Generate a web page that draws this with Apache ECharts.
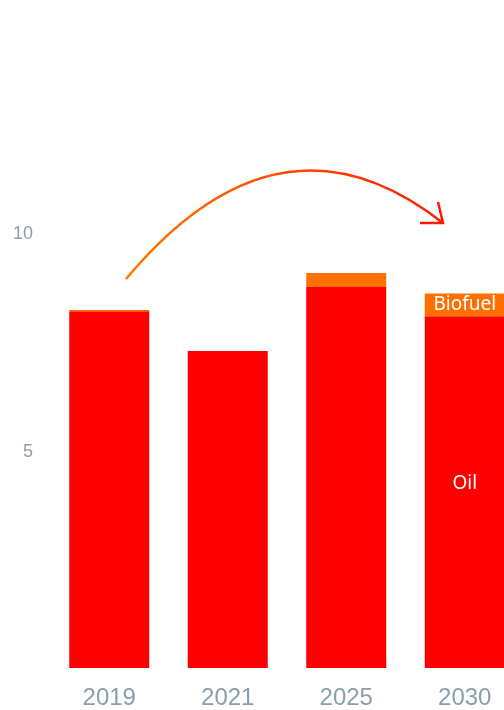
<!DOCTYPE html>
<html>
<head>
<meta charset="utf-8">
<script src="https://cdn.jsdelivr.net/npm/echarts@6/dist/echarts.min.js"></script>
<style>html,body{margin:0;padding:0;background:#fff;}#c{width:504px;height:710px;}</style>
</head>
<body>
<div id="c"></div>
<script>
const categories = ['2019', '2021', '2025', '2030'];
const oilValues = [8.18, 7.27, 8.74, 8.07];
const biofuelValues = [0.03, 0, 0.32, 0.52];
const yTicks = [5, 10];

const chart = echarts.init(document.getElementById('c'), null, {renderer: 'canvas'});
const labelIdx = categories.length - 1;

chart.setOption({
  animation: false,
  backgroundColor: '#ffffff',
  grid: {left: 50, width: 474, top: 14, bottom: 42, containLabel: false, outerBoundsMode: 'none'},
  xAxis: {
    type: 'category',
    data: categories,
    axisLine: {show: false},
    axisTick: {show: false},
    axisLabel: {color: '#8a9fa6', fontSize: 24, fontFamily: 'Liberation Sans, Arial, sans-serif', margin: 18}
  },
  yAxis: {
    type: 'value',
    min: 0, max: 15, interval: 5,
    splitLine: {show: false},
    axisLine: {show: false},
    axisTick: {show: false},
    axisLabel: {
      color: '#8a9fa6', fontSize: 18, fontFamily: 'Liberation Sans, Arial, sans-serif', margin: 17,
      formatter: v => yTicks.includes(v) ? '{a|' + v + '}' : '',
      rich: {a: {color: '#8a9fa6', fontSize: 18, fontFamily: 'Liberation Sans, Arial, sans-serif', padding: [4, 0, 0, 0]}}
    }
  },
  series: [
    {
      name: 'Oil', type: 'bar', stack: 'fuel', barWidth: 80,
      itemStyle: {color: '#ff0000'},
      data: oilValues.map((v, i) => ({
        value: v,
        label: i === labelIdx ? {show: true, position: 'inside', offset: [0, -8], formatter: 'Oil', color: '#fff', fontSize: 19, fontFamily: 'Noto Sans, sans-serif'} : {show: false}
      }))
    },
    {
      name: 'Biofuel', type: 'bar', stack: 'fuel', barWidth: 80,
      itemStyle: {color: '#ff7000'},
      data: biofuelValues.map((v, i) => ({
        value: v,
        label: i === labelIdx ? {show: true, position: 'inside', formatter: 'Biofuel', color: '#fff', fontSize: 19, fontFamily: 'Noto Sans, sans-serif'} : {show: false}
      }))
    }
  ],
  graphic: [
    {
      type: 'group',
      children: [
        {
          type: 'bezierCurve',
          shape: {x1: 126, y1: 279, x2: 443, y2: 223, cpx1: 280, cpy1: 95},
          style: {
            fill: 'none', lineWidth: 2.5,
            stroke: new echarts.graphic.LinearGradient(0, 0, 1, 0, [{offset: 0, color: '#ff7a00'}, {offset: 1, color: '#ff1a00'}])
          }
        },
        {
          type: 'polyline',
          shape: {points: [[420, 223], [443, 223], [438, 202]]},
          style: {fill: 'none', stroke: '#ff1a00', lineWidth: 2.5}
        }
      ]
    }
  ]
});
</script>
</body>
</html>
